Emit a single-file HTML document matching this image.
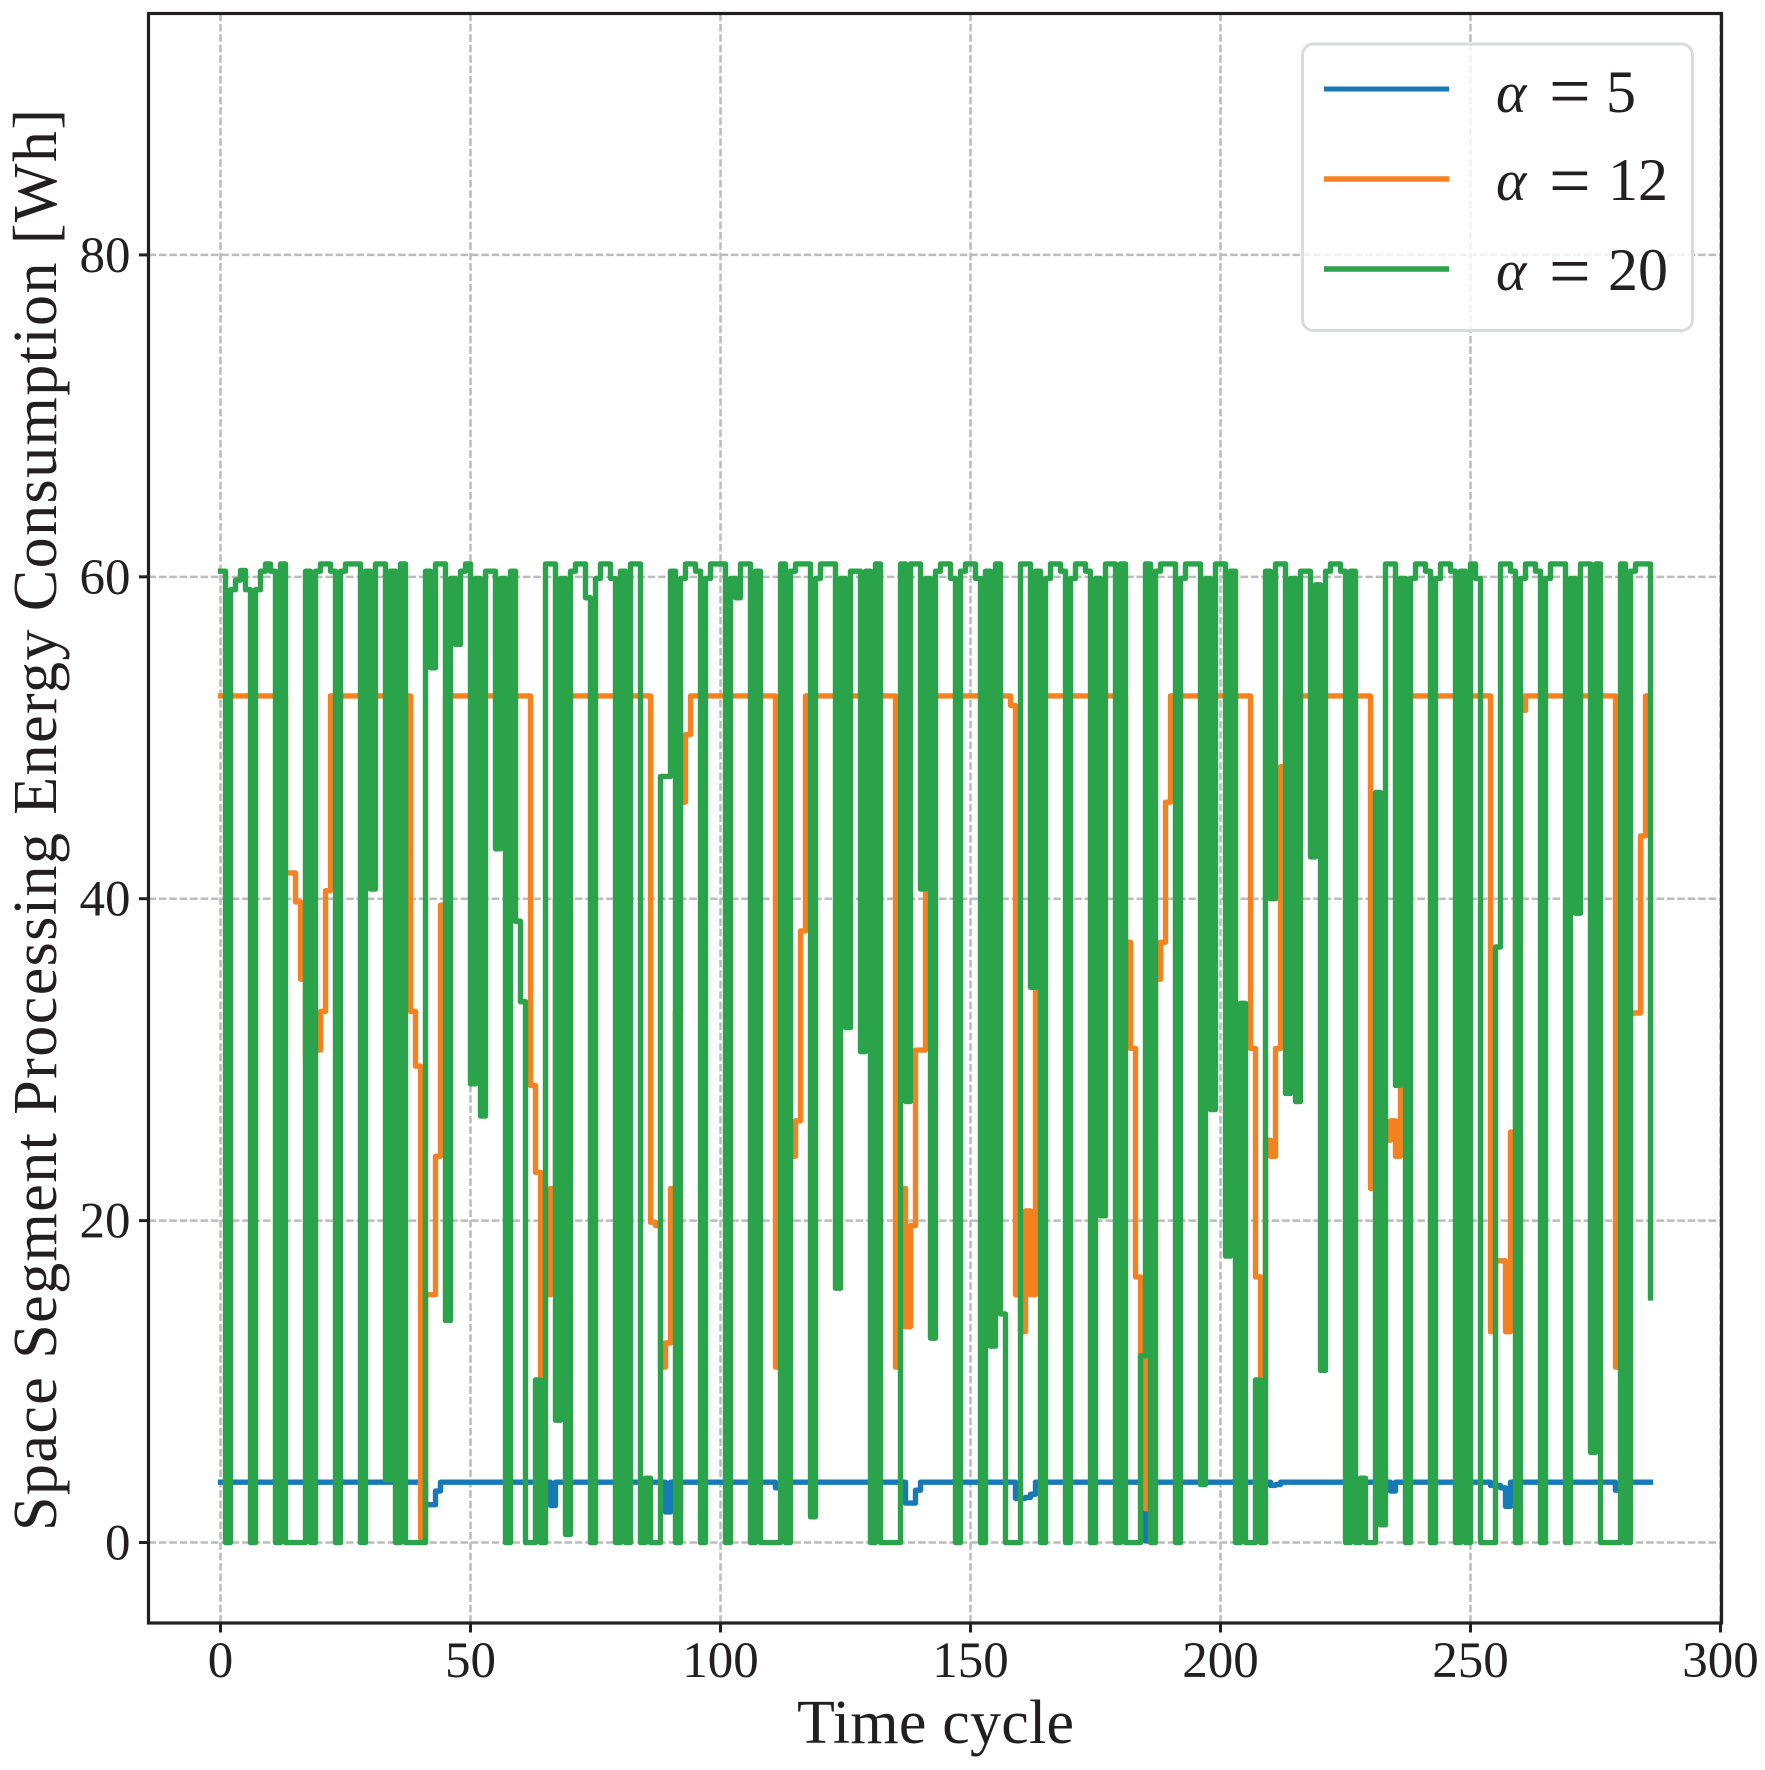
<!DOCTYPE html>
<html lang="en">
<head>
<meta charset="utf-8">
<title>Space Segment Processing Energy Consumption</title>
<style>
html,body{margin:0;padding:0;background:#fff;}
svg{display:block;}
text{font-family:"Liberation Serif",serif;fill:#231f20;}
</style>
</head>
<body>
<svg id="chart" xmlns="http://www.w3.org/2000/svg" width="1765" height="1770" viewBox="0 0 1765 1770">
<rect x="0" y="0" width="1765" height="1770" fill="#ffffff"/>
<g id="grid"></g>
<g id="series"></g>
<g id="legend">
<rect x="1302.5" y="44" width="390" height="286.5" rx="11" ry="11" fill="#ffffff" fill-opacity="0.8" stroke="#dadbdc" stroke-width="3"/>
<g>
<line x1="1324" x2="1449" y1="89" y2="89" stroke="#1879b9" stroke-width="5"/>
<text x="1496" y="112" font-size="58" font-style="italic">α</text>
<text x="1549" y="116" font-size="74">=</text>
<text x="1606" y="112" font-size="60">5</text>
</g>
<g>
<line x1="1324" x2="1449" y1="179" y2="179" stroke="#f68121" stroke-width="5.5"/>
<text x="1496" y="200" font-size="58" font-style="italic">α</text>
<text x="1549" y="205.5" font-size="74">=</text>
<text x="1608" y="200" font-size="60">12</text>
</g>
<g>
<line x1="1324" x2="1449" y1="269" y2="269" stroke="#2aa34a" stroke-width="5.5"/>
<text x="1496" y="290" font-size="58" font-style="italic">α</text>
<text x="1549" y="296" font-size="74">=</text>
<text x="1608" y="290" font-size="60">20</text>
</g>
</g>
<g id="axes"></g>
<text x="935.5" y="1743" font-size="62" text-anchor="middle" textLength="277" lengthAdjust="spacing">Time cycle</text>
<text transform="translate(56,820) rotate(-90)" x="0" y="0" font-size="62" text-anchor="middle" textLength="1422" lengthAdjust="spacing">Space Segment Processing Energy Consumption [Wh]</text>
</svg>
<script>
const xTickValues = [0, 50, 100, 150, 200, 250, 300];
const yTickValues = [0, 20, 40, 60, 80];
const xTickLabels = ["0", "50", "100", "150", "200", "250", "300"];
const yTickLabels = ["0", "20", "40", "60", "80"];
const xDomain = [-14.4, 300.2];
const yDomain = [-5, 95];

const seriesAlpha5 = [
3.75,3.75,3.75,3.75,3.75,3.75,3.75,3.75,3.75,3.75,
3.75,3.75,3.75,3.75,3.75,3.75,3.75,3.75,3.75,3.75,
3.75,3.75,3.75,3.75,3.75,3.75,3.75,3.75,3.75,3.75,
3.75,3.75,3.75,3.75,3.75,3.75,3.75,3.75,3.75,3.75,
3.75,2.35,2.35,3.2,3.75,3.75,3.75,3.75,3.75,3.75,
3.75,3.75,3.75,3.75,3.75,3.75,3.75,3.75,3.75,3.75,
3.75,3.75,3.75,3.75,3.75,3.75,2.3,3.75,3.75,3.75,
3.75,3.75,3.75,3.75,3.75,3.75,3.75,3.75,3.75,3.75,
3.75,3.75,3.75,3.75,3.75,3.75,3.75,3.75,3.75,1.9,
3.75,1.9,3.75,3.75,3.75,3.75,3.75,3.75,3.75,3.75,
3.75,3.75,3.75,3.75,3.75,3.75,3.75,3.75,3.75,3.75,
3.75,3.4,3.75,3.75,3.75,3.75,3.75,3.75,3.75,3.75,
3.75,3.75,3.75,3.75,3.75,3.75,3.75,3.75,3.75,3.75,
3.75,3.75,3.75,3.75,3.75,3.75,3.75,2.45,2.45,3.25,
3.75,3.75,3.75,3.75,3.75,3.75,3.75,3.75,3.75,3.75,
3.75,3.75,3.75,3.75,3.75,3.75,3.75,3.75,3.75,2.75,
2.75,2.8,3.0,3.75,3.75,3.75,3.75,3.75,3.75,3.75,
3.75,3.75,3.75,3.75,3.75,3.75,3.75,3.75,3.75,3.75,
3.75,3.75,3.75,3.75,3.75,0.1,3.75,3.75,3.75,3.75,
3.75,3.75,3.75,3.75,3.75,3.75,3.75,3.75,3.75,3.75,
3.75,3.75,3.75,3.75,3.75,3.75,3.75,3.75,3.75,3.75,
3.55,3.6,3.75,3.75,3.75,3.75,3.75,3.75,3.75,3.75,
3.75,3.75,3.75,3.75,3.75,3.75,3.75,3.75,3.75,3.75,
3.75,3.75,3.75,3.75,3.2,3.75,3.75,3.75,3.75,3.75,
3.75,3.75,3.75,3.75,3.75,3.75,3.75,3.75,3.75,3.75,
3.75,3.75,3.75,3.75,3.55,3.55,3.4,2.25,3.75,3.75,
3.75,3.75,3.75,3.75,3.75,3.75,3.75,3.75,3.75,3.75,
3.75,3.75,3.75,3.75,3.75,3.75,3.75,3.75,3.75,3.25,
3.75,3.75,3.75,3.75,3.75,3.75,3.75
];

const seriesAlpha12 = [
52.6,52.6,52.6,52.6,52.6,52.6,52.6,52.6,52.6,52.6,
52.6,52.6,52.6,41.6,41.6,39.8,35,30,30.6,30.6,
33,40.5,52.6,52.6,52.6,52.6,52.6,52.6,52.6,52.6,
52.6,52.6,52.6,52.6,52.6,52.6,52.6,52.6,33,29.6,
0.3,15.4,15.4,24,39.6,52.6,52.6,52.6,52.6,52.6,
52.6,52.6,52.6,52.6,52.6,52.6,52.6,52.6,52.6,52.6,
52.6,52.6,28.4,23,10.2,15.4,22,40,52.6,52.6,
52.6,52.6,52.6,52.6,52.6,52.6,52.6,52.6,52.6,52.6,
52.6,52.6,52.6,52.6,52.6,52.6,19.9,19.7,10.9,12.4,
22,33,46,50.2,52.6,52.6,52.6,52.6,52.6,52.6,
52.6,52.6,52.6,52.6,52.6,52.6,52.6,52.6,52.6,52.6,
52.6,10.9,15,20,24,26.2,38,52.6,52.6,52.6,
52.6,52.6,52.6,52.6,52.6,52.6,52.6,52.6,52.6,52.6,
52.6,52.6,52.6,52.6,52.6,10.9,22,13.4,19.7,30.6,
30.6,40.5,52.6,52.6,52.6,52.6,52.6,52.6,52.6,52.6,
52.6,52.6,52.6,52.6,52.6,52.6,52.6,52.6,52,15.4,
13.1,20.6,15.4,34.3,52.6,52.6,52.6,52.6,52.6,52.6,
52.6,52.6,52.6,52.6,52.6,52.6,52.6,52.6,52.6,52.6,
52.6,37.3,30.7,16.5,11.5,2.1,20,35,37.3,46,
52.6,52.6,52.6,52.6,52.6,52.6,52.6,52.6,52.6,52.6,
52.6,52.6,52.6,52.6,52.6,52.6,30.7,16.5,10.2,25,
24,30.7,48.2,52.6,52.6,52.6,52.6,52.6,52.6,52.6,
52.6,52.6,52.6,52.6,52.6,52.6,52.6,52.6,52.6,52.6,
22,24,25,25,26.2,24,28.4,52.6,52.6,52.6,
52.6,52.6,52.6,52.6,52.6,52.6,52.6,52.6,52.6,52.6,
52.6,52.6,52.6,52.6,13.1,17.5,17.5,13.1,25.5,40,
51.7,52.6,52.6,52.6,52.6,52.6,52.6,52.6,52.6,52.6,
52.6,52.6,52.6,52.6,52.6,52.6,52.6,52.6,52.6,10.9,
15,20,32.9,32.9,43.9,52.6,52.6
];

const seriesAlpha20 = [
60.35,0,59.2,59.8,60.4,59.2,0,59.2,60.35,60.8,
60.35,0,60.8,0,0,0,0,60.35,0,60.35,
60.8,60.8,60.35,0,60.35,60.8,60.8,60.8,0,60.35,
40.6,60.8,60.8,3.9,60.35,0,60.8,0,0,0,
0,60.35,54.35,60.8,60.8,13.8,59.9,55.8,60.35,60.8,
28.5,59.9,26.5,60.35,60.35,43.1,59.9,0,60.35,38.6,
33.6,0,0,10.1,0,60.8,60.8,7.6,59.9,0.5,
60.35,60.8,60.8,58.7,0,59.9,60.8,60.8,59.9,0,
60.35,0,60.8,60.8,0,4,0,0,47.6,47.6,
60.35,0,59.9,60.8,60.8,60.35,0,59.9,60.8,60.8,
60.8,0,59.9,58.7,60.8,60.8,0,60.35,0,0,
0,0,60.8,0,60.35,60.8,60.8,60.8,1.6,59.9,
60.8,60.8,60.8,15.8,59.9,32,60.35,60.35,30.5,60.35,
0,60.8,0,0,0,0,60.8,27.4,60.8,60.8,
40.6,59.9,12.7,60.35,60.8,60.8,59.9,0,60.35,60.8,
60.8,59.9,0,60.35,12.2,60.8,14.2,0,0,0,
60.8,60.8,34.5,60.35,0,59.9,60.8,60.8,60.35,0,
59.9,60.8,60.8,60.35,0,59.9,20.3,60.8,60.8,0,
60.8,0,0,0,11.6,60.8,0,60.35,60.8,60.8,
60.8,0,59.9,60.8,60.8,60.8,3.6,59.9,26.9,60.8,
60.8,17.8,60.35,0,33.5,0,0,10.1,0,60.35,
40,60.8,60.8,27.9,59.9,27.4,60.35,60.35,42.6,59.5,
10.7,60.35,60.8,60.8,60.35,0,60.35,0,4,0,
0,46.6,1.1,60.8,60.8,28.4,59.9,0,59.9,60.8,
60.8,60.35,0,59.9,60.8,60.8,60.35,0,60.35,0,
60.8,59.9,0,0,0,37,60.8,60.8,60.35,0,
59.9,60.8,60.8,60.35,0,59.9,60.8,60.8,60.8,0,
59.9,39.1,60.8,60.8,5.6,60.8,0,0,0,0,
60.8,0,60.35,60.8,60.8,60.8,15.2
];

const plotLeft = 148.5;
const plotRight = 1721.5;
const plotTop = 13.5;
const plotBottom = 1623;
const inkColor = "#231f20";
const gridColor = "#bcbcbc";
const NS = "http://www.w3.org/2000/svg";

function xScale(v) {
  return plotLeft + (v - xDomain[0]) * (plotRight - plotLeft) / (xDomain[1] - xDomain[0]);
}
function yScale(v) {
  return plotBottom - (v - yDomain[0]) * (plotBottom - plotTop) / (yDomain[1] - yDomain[0]);
}
function make(tag, attrs, parent) {
  const el = document.createElementNS(NS, tag);
  for (const k in attrs) el.setAttribute(k, attrs[k]);
  parent.appendChild(el);
  return el;
}
function stepPath(values) {
  let d = "M" + xScale(0).toFixed(2) + " " + yScale(values[0]).toFixed(2);
  for (let t = 1; t < values.length; t++) {
    d += "H" + xScale(t).toFixed(2) + "V" + yScale(values[t]).toFixed(2);
  }
  return d;
}

const gridGroup = document.getElementById("grid");
const seriesGroup = document.getElementById("series");
const axesGroup = document.getElementById("axes");

xTickValues.forEach(function (v) {
  const gl = make("line", {x1: xScale(v), x2: xScale(v), y1: plotTop, y2: plotBottom, stroke: gridColor, "stroke-width": 2.5, "stroke-dasharray": "7.6 2.8"}, gridGroup);
  
  
});
yTickValues.forEach(function (v) {
  const gl = make("line", {x1: plotLeft, x2: plotRight, y1: yScale(v), y2: yScale(v), stroke: gridColor, "stroke-width": 2.5, "stroke-dasharray": "7.6 2.8"}, gridGroup);
  
  
});

const lineCommon = {fill: "none", "stroke-width": 5.4, "stroke-linejoin": "round", "stroke-linecap": "square"};

const lineBlue = make("path", Object.assign({d: stepPath(seriesAlpha5), stroke: "#1879b9"}, lineCommon), seriesGroup);



const lineOrange = make("path", Object.assign({d: stepPath(seriesAlpha12), stroke: "#f68121"}, lineCommon), seriesGroup);



const lineGreen = make("path", Object.assign({d: stepPath(seriesAlpha20), stroke: "#2aa34a"}, lineCommon), seriesGroup);



xTickValues.forEach(function (v, i) {
  const tk = make("line", {x1: xScale(v), x2: xScale(v), y1: plotBottom, y2: plotBottom + 9.5, stroke: inkColor, "stroke-width": 3}, axesGroup);
  
  
  const lb = make("text", {x: xScale(v), y: 1677, "font-size": 51, "text-anchor": "middle"}, axesGroup);
  lb.textContent = xTickLabels[i];
  
  
});
yTickValues.forEach(function (v, i) {
  const tk = make("line", {x1: plotLeft - 9.5, x2: plotLeft, y1: yScale(v), y2: yScale(v), stroke: inkColor, "stroke-width": 3}, axesGroup);
  
  
  const lb = make("text", {x: 130.5, y: yScale(v) + 17, "font-size": 51, "text-anchor": "end"}, axesGroup);
  lb.textContent = yTickLabels[i];
  
  
});

const frame = make("rect", {x: plotLeft, y: plotTop, width: plotRight - plotLeft, height: plotBottom - plotTop, fill: "none", stroke: inkColor, "stroke-width": 3.2}, axesGroup);


</script>
</body>
</html>
